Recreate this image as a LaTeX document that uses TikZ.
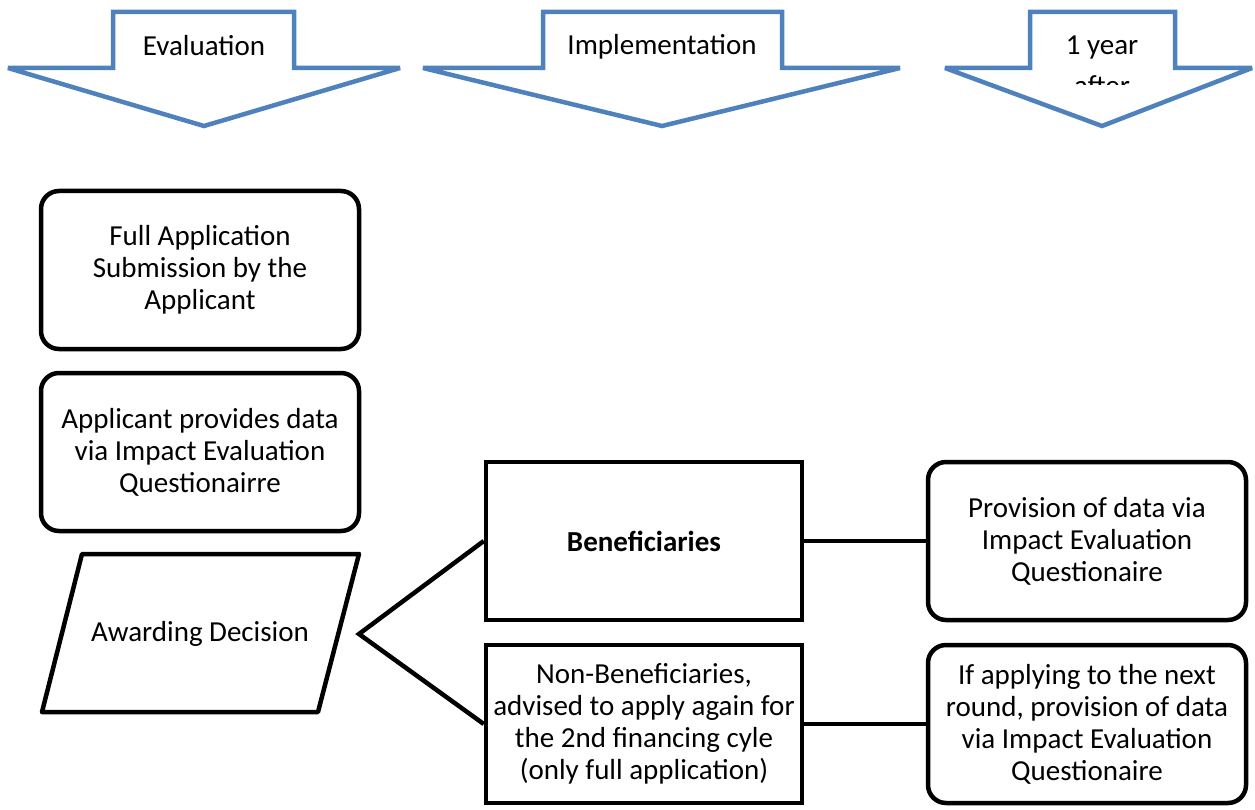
\documentclass[tikz,border=0pt]{standalone}
\usepackage{fontspec}
\setmainfont{Carlito}
\usetikzlibrary{positioning}
\definecolor{phaseblue}{RGB}{79,129,189}
\tikzset{
  roundbox/.style={rectangle, draw, line width=4.5pt, rounded corners=18pt,
    align=center, minimum width=318pt, minimum height=158pt, inner sep=0pt},
  squarebox/.style={rectangle, draw, line width=4.5pt,
    align=center, minimum width=316pt, minimum height=158pt, inner sep=0pt},
  phase/.style={draw=phaseblue, line width=4.5pt, miter limit=2},
  link/.style={draw, line width=4.5pt}
}

\begin{document}
\begin{tikzpicture}[x=1pt,y=-1pt,font=\fontsize{29}{32}\selectfont]
  \useasboundingbox (0,0) rectangle (1255,810);

  % phase arrows
  \draw[phase] (113,12) -- (294,12) -- (294,68) -- (400,68) -- (204,126)
               -- (8,68) -- (113,68) -- cycle;
  \node (evaluation) at (204,46) {Evaluation};
  \draw[phase] (543,12) -- (782,12) -- (782,68) -- (900,68) -- (662,126)
               -- (423,68) -- (543,68) -- cycle;
  \node (implementation) at (662,47) {Implementation};
  \draw[phase] (1030,12) -- (1175,12) -- (1175,68) -- (1252,68) -- (1102,126)
               -- (945,68) -- (1030,68) -- cycle;
  \begin{scope}
    \clip (1032,14) rectangle (1173,85);
    \node[align=center, font=\fontsize{29}{41}\selectfont] (yearafter) at (1102,66) {1 year\\after};
  \end{scope}

  % evaluation column
  \node[roundbox] (fullapp)   at (200,270) {Full Application\\Submission by the\\Applicant};
  \node[roundbox] (applicant) at (200,452) {Applicant provides data\\via Impact Evaluation\\Questionairre};
  \draw[line width=4.5pt, line join=round] (82,554) -- (359,554) -- (318,712) -- (42,712) -- cycle;
  \node (decision) at (200,634) {Awarding Decision};
  \coordinate (fork) at (359,634);

  % implementation column
  \node[squarebox] (benef)  at (644,541) {\textbf{Beneficiaries}};
  \node[squarebox] (nonben) at (644,724) {Non-Beneficiaries,\\advised to apply again for\\the 2nd financing cyle\\(only full application)};

  % one year after
  \node[roundbox] (provision) at (1087,541) {Provision of data via\\Impact Evaluation\\Questionaire};
  \node[roundbox] (nextround) at (1087,724) {If applying to the next\\round, provision of data\\via Impact Evaluation\\Questionaire};

  \path[link] (benef.west) -- (fork) -- (nonben.west);
  \path[link] (benef) -- (provision)
              (nonben) -- (nextround);
\end{tikzpicture}
\end{document}
